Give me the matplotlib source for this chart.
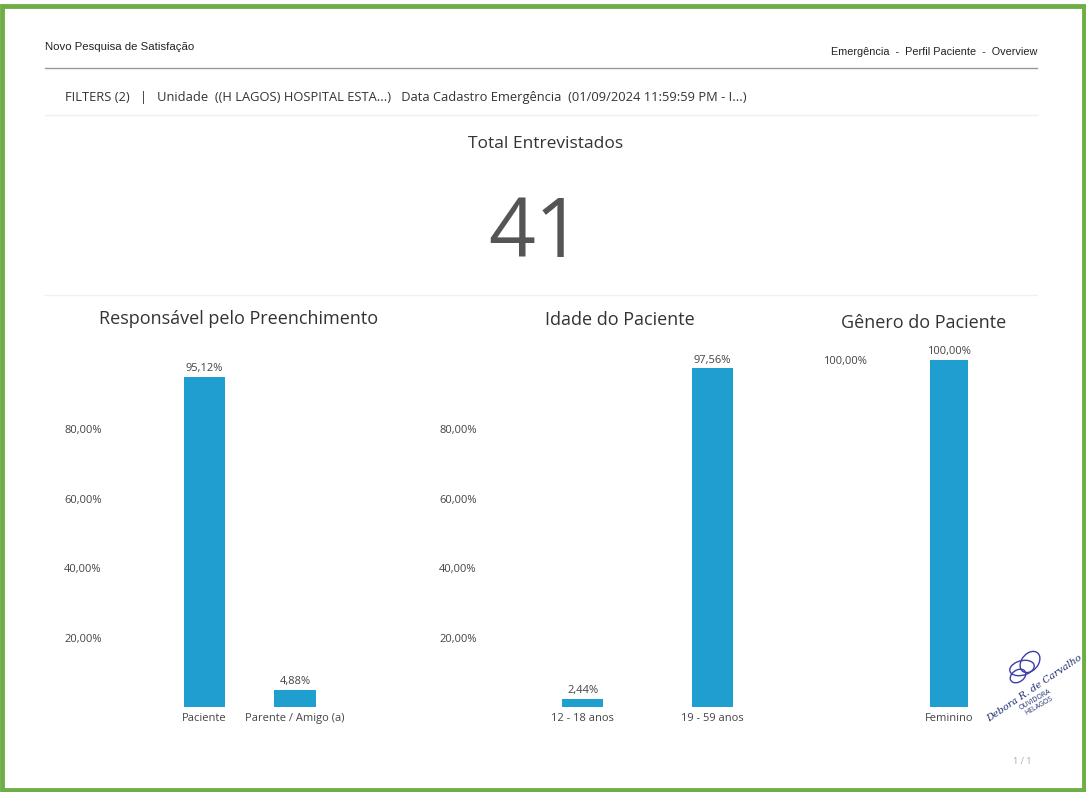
import matplotlib.pyplot as plt
from matplotlib.patches import Rectangle, Ellipse

plt.rcParams['font.family'] = ['Open Sans', 'DejaVu Sans']

# dados do painel
total_entrevistados = 41

resp_categorias = ["Paciente", "Parente / Amigo (a)"]
resp_valores = [95.12, 4.88]

idade_categorias = ["12 - 18 anos", "19 - 59 anos"]
idade_valores = [2.44, 97.56]

genero_categorias = ["Feminino"]
genero_valores = [100.0]

ticks_resp = [20, 40, 60, 80]
ticks_idade = [20, 40, 60, 80]
ticks_genero = [100]

W, H = 1086, 792
fig = plt.figure(figsize=(W / 100, H / 100), dpi=100)
fig.patch.set_facecolor('white')

def px(x, y):
    return x / W, 1 - y / H

# moldura verde
fig.patches.append(Rectangle((0.002, 0.003), 0.996, 0.99, transform=fig.transFigure,
                             fill=False, edgecolor='#6fae46', linewidth=3.5))

# cabeçalho
fig.text(*px(45, 47), "Novo Pesquisa de Satisfação", fontsize=8.2,
         family=['Liberation Sans'], color='#222', va='center')
fig.text(*px(1037, 52), "Emergência  -  Perfil Paciente  -  Overview", fontsize=7.8,
         family=['Liberation Sans'], color='#222', va='center', ha='right')
fig.add_artist(plt.Line2D([45 / W, 1037 / W], [1 - 68 / H, 1 - 68 / H],
                          color='#999', linewidth=1))
fig.text(*px(65, 98), "FILTERS (2)   |   Unidade  ((H LAGOS) HOSPITAL ESTA...)   "
         "Data Cadastro Emergência  (01/09/2024 11:59:59 PM - I...)",
         fontsize=9.3, color='#333', va='center')

# linhas suaves dos painéis
for yy in [115, 295]:
    fig.add_artist(plt.Line2D([45 / W, 1037 / W], [1 - yy / H, 1 - yy / H],
                              color='#f0f0f0', linewidth=1))

# cartão total
fig.text(*px(546, 144), "Total Entrevistados", fontsize=12.5, color='#333',
         ha='center', va='center')
fig.text(*px(535, 236), str(total_entrevistados), fontsize=59, color='#555',
         ha='center', va='center')

cor_barra = '#1f9fcf'
y0, y100 = 707, 360


def painel(left, right, xlim, cats, vals, ticks, largura, titulo, tx, ty):
    ax = fig.add_axes([left / W, 1 - y0 / H, (right - left) / W, (y0 - y100) / H])
    ax.bar(range(len(cats)), vals, width=largura, color=cor_barra)
    ax.set_xlim(*xlim)
    ax.set_ylim(0, 100)
    ax.set_yticks(ticks)
    ax.set_yticklabels([f"{t:.2f}%".replace('.', ',') for t in ticks])
    ax.set_xticks(range(len(cats)))
    ax.set_xticklabels(cats)
    ax.tick_params(length=0, labelsize=8, labelcolor='#444', pad=4)
    ax.tick_params(axis='y', pad=6)
    for s in ax.spines.values():
        s.set_visible(False)
    for i, v in enumerate(vals):
        ax.annotate(f"{v:.2f}%".replace('.', ','), (i, v), xytext=(0, 2),
                    textcoords='offset points', ha='center', va='bottom',
                    fontsize=8, color='#444')
    fig.text(*px(tx, ty), titulo, fontsize=13, color='#333', ha='center', va='center')
    return ax


painel(110, 400, (-1.044, 2.16), resp_categorias, resp_valores, ticks_resp, 0.46,
       "Responsável pelo Preenchimento", 239, 319)
painel(485, 790, (-0.75, 1.596), idade_categorias, idade_valores, ticks_idade, 0.31,
       "Idade do Paciente", 620, 320)
painel(875, 1030, (-0.74, 0.81), genero_categorias, genero_valores, ticks_genero, 0.38,
       "Gênero do Paciente", 924, 323)

# carimbo
for cx, cy, w, h, a in [(1022, 668, 26, 14, 30), (1030, 662, 18, 22, -20), (1018, 676, 20, 10, 60)]:
    fig.patches.append(Ellipse(px(cx, cy), w / W, h / H, angle=a, transform=fig.transFigure,
                               fill=False, edgecolor='#3b3fa8', linewidth=1.0))
fig.text(*px(1034, 688), "Debora R. de Carvalho", fontsize=7, style='italic',
         color='#1b2a6b', rotation=34, ha='center', va='center', family=['DejaVu Serif'])
fig.text(*px(1037, 703), "OUVIDORA\nHELAGOS", fontsize=5, color='#1b2a6b',
         rotation=30, ha='center', va='center', linespacing=1.0)

fig.text(*px(1022, 761), "1 / 1", fontsize=6.5, color='#aaa', ha='center', va='center')

fig.savefig('out.png', dpi=100)
